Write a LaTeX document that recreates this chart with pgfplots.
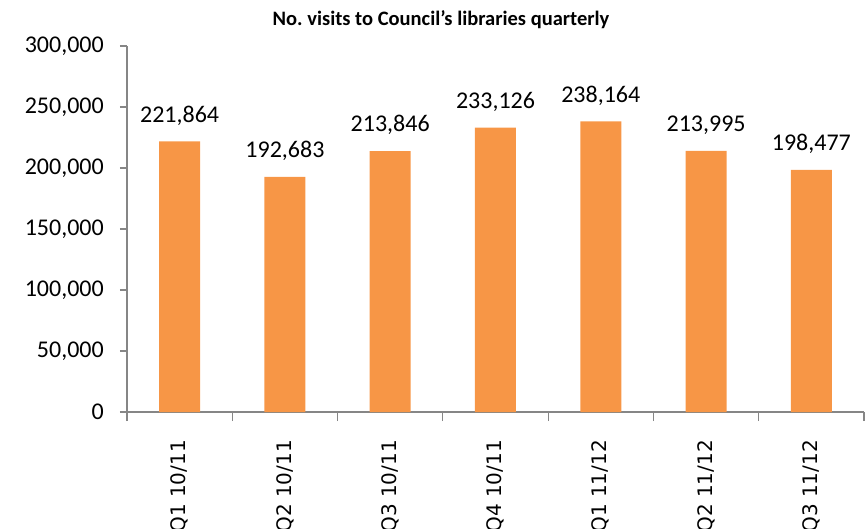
\documentclass[border=0pt]{standalone}
\usepackage{fontspec}
\setmainfont{Carlito}
\newfontfamily\labelfont{DejaVu Sans}
\usepackage{pgfplots}
\pgfplotsset{compat=1.18}
\usepackage{pgfplotstable}

\definecolor{barorange}{HTML}{F79646}
\definecolor{axisgray}{HTML}{868686}

% quarterly library visits
\pgfplotstableread{
x y lab
0 221864 221,864
1 192683 192,683
2 213846 213,846
3 233126 233,126
4 238164 238,164
5 213995 213,995
6 198477 198,477
}\visits

\begin{document}
\begin{tikzpicture}
\begin{axis}[
    scale only axis,
    width=737bp,
    height=366bp,
    ybar,
    bar width=41bp,
    xmin=-0.5, xmax=6.5,
    ymin=0, ymax=300000,
    axis x line*=bottom,
    axis y line*=left,
    axis line style={axisgray, line width=1.2bp},
    tick style={axisgray, line width=1.2bp},
    tick align=outside,
    major tick length=7bp,
    minor tick length=9bp,
    ytick={0,50000,...,300000},
    scaled y ticks=false,
    /pgf/number format/fixed,
    /pgf/number format/1000 sep={,},
    /pgf/number format/assume math mode=true,
    y tick label style={font=\fontsize{24bp}{28bp}\selectfont, inner sep=0pt, xshift=-16bp},
    xtick={0,...,6},
    xticklabels={Q1 10/11, Q2 10/11, Q3 10/11, Q4 10/11, Q1 11/12, Q2 11/12, Q3 11/12},
    major x tick style={draw=none},
    minor xtick={-0.5,0.5,...,6.5},
    x tick label style={font=\labelfont\fontsize{20bp}{24bp}\selectfont, rotate=90, anchor=east, inner sep=0pt},
    xticklabel shift=21bp,
    point meta=explicit symbolic,
    nodes near coords,
    nodes near coords style={font=\fontsize{24bp}{28bp}\selectfont, anchor=south, inner sep=0pt, yshift=16bp, text=black},
]
\addplot[fill=barorange, draw=none] table[x=x, y=y, meta=lab] {\visits};
\coordinate (O) at (rel axis cs:0,0);
\end{axis}
\node[font=\bfseries\fontsize{20.5bp}{24bp}\selectfont] at ([shift={(314bp,392bp)}]O) {No.\ visits to Council’s libraries quarterly};
\pgfresetboundingbox
\path ([shift={(-127bp,-117bp)}]O) rectangle ++(866bp,529bp);
\end{tikzpicture}
\end{document}
